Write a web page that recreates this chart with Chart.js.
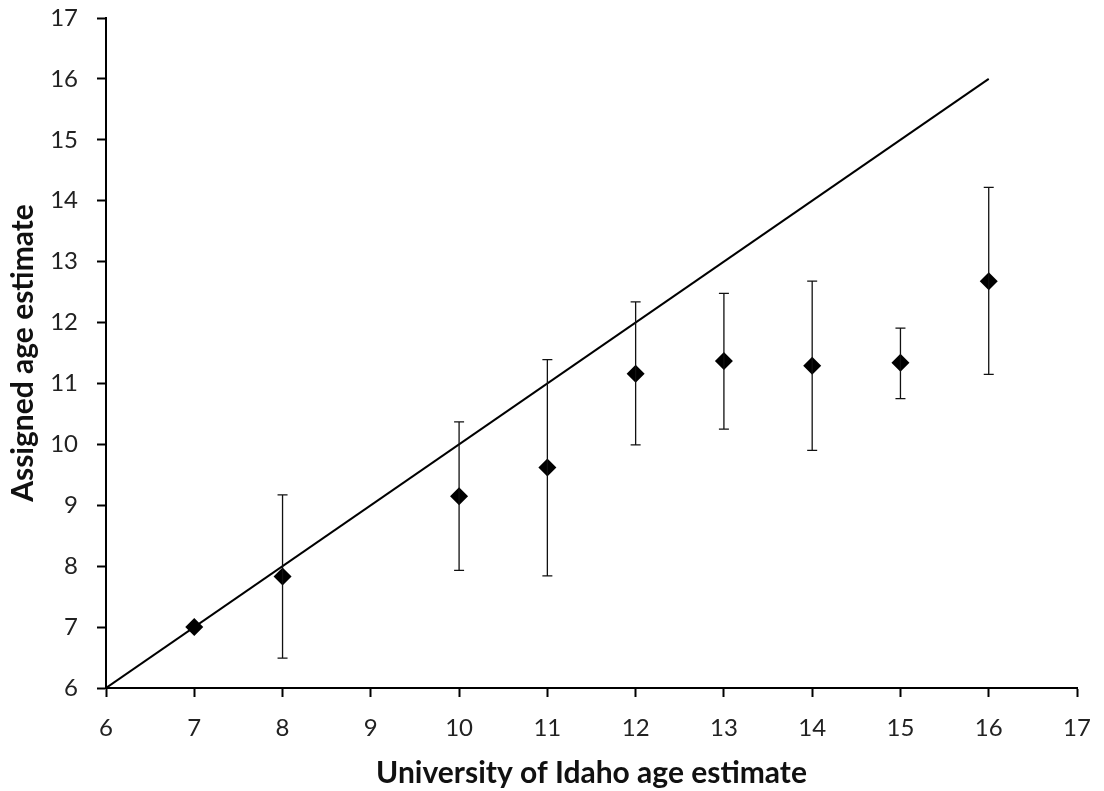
<!DOCTYPE html>
<html>
<head>
<meta charset="utf-8">
<script src="https://cdn.jsdelivr.net/npm/chart.js@4.4.0/dist/chart.umd.min.js"></script>
<style>
  html, body { margin: 0; padding: 0; background: #fff; }
  #wrap { width: 1104px; height: 791px; }
</style>
</head>
<body>
<div id="wrap"><canvas id="ageChart" width="1104" height="791"></canvas></div>
<script>
// University of Idaho estimate (x) vs assigned estimate (y)
const idahoAges = [7, 8, 10, 11, 12, 13, 14, 15, 16];
const assignedMeans = [7.0, 7.83, 9.15, 9.62, 11.16, 11.37, 11.29, 11.34, 12.68];
const assignedLow = [7.0, 6.49, 7.93, 7.84, 9.99, 10.25, 9.9, 10.75, 11.15];
const assignedHigh = [7.0, 9.17, 10.37, 11.39, 12.34, 12.48, 12.68, 11.91, 14.22];
// 1:1 reference line
const refLineX = [6, 16];
const refLineY = [6, 16];
const axisTicks = [6, 7, 8, 9, 10, 11, 12, 13, 14, 15, 16, 17];

const points = idahoAges.map((x, i) => ({ x: x, y: assignedMeans[i] }));
const refLine = refLineX.map((x, i) => ({ x: x, y: refLineY[i] }));

// draws the vertical error bars with caps
const errorBars = {
  id: "errorBars",
  afterDatasetsDraw(chart) {
    const ctx = chart.ctx;
    const xs = chart.scales.x;
    const ys = chart.scales.y;
    ctx.save();
    ctx.strokeStyle = "#111";
    ctx.lineWidth = 1.3;
    idahoAges.forEach((x, i) => {
      if (assignedLow[i] === assignedHigh[i]) return;
      const px = xs.getPixelForValue(x);
      const top = ys.getPixelForValue(assignedHigh[i]);
      const bot = ys.getPixelForValue(assignedLow[i]);
      ctx.beginPath();
      ctx.moveTo(px, top);
      ctx.lineTo(px, bot);
      ctx.moveTo(px - 5, top);
      ctx.lineTo(px + 5, top);
      ctx.moveTo(px - 5, bot);
      ctx.lineTo(px + 5, bot);
      ctx.stroke();
    });
    ctx.restore();
  },
};

const tickFont = { family: "Lato, 'Open Sans', sans-serif", size: 24 };
const titleFont = { family: "Lato, 'Open Sans', sans-serif", size: 30, weight: "bold" };

new Chart(document.getElementById("ageChart"), {
  type: "scatter",
  data: {
    datasets: [
      {
        label: "Assigned",
        data: points,
        pointStyle: "rectRot",
        pointRadius: 9,
        backgroundColor: "#000",
        borderColor: "#000",
        borderWidth: 0,
        order: 1,
      },
      {
        label: "1:1",
        data: refLine,
        showLine: true,
        pointRadius: 0,
        borderColor: "#000",
        borderWidth: 2,
        order: 2,
      },
    ],
  },
  options: {
    responsive: false,
    animation: false,
    layout: { padding: { top: 18, right: 27, left: 0, bottom: 0 } },
    plugins: {
      legend: { display: false },
      tooltip: { enabled: false },
    },
    scales: {
      x: {
        type: "linear",
        min: 6,
        max: 17,
        afterBuildTicks: (scale) => {
          scale.ticks = axisTicks.map((v) => ({ value: v }));
        },
        afterFit: (scale) => {
          scale.height = 103;
          scale.paddingLeft = 0;
          scale.paddingRight = 0;
        },
        grid: { drawOnChartArea: false, drawTicks: true, tickLength: 9, color: "#000", tickWidth: 2 },
        border: { color: "#000", width: 2 },
        ticks: { color: "#222", font: tickFont, padding: 17, maxRotation: 0 },
        title: {
          display: true,
          text: "University of Idaho age estimate",
          color: "#111",
          font: titleFont,
          padding: { top: 0, bottom: 0 },
        },
      },
      y: {
        type: "linear",
        min: 6,
        max: 17,
        afterBuildTicks: (scale) => {
          scale.ticks = axisTicks.map((v) => ({ value: v }));
        },
        afterFit: (scale) => {
          scale.width = 106;
          scale.paddingTop = 0;
          scale.paddingBottom = 0;
        },
        grid: { drawOnChartArea: false, drawTicks: true, tickLength: 9, color: "#000", tickWidth: 2 },
        border: { color: "#000", width: 2 },
        ticks: { color: "#222", font: tickFont, padding: 19 },
        title: {
          display: true,
          text: "Assigned age estimate",
          color: "#111",
          font: titleFont,
          padding: { top: 5, bottom: 0 },
        },
      },
    },
  },
  plugins: [errorBars],
});
</script>
</body>
</html>
